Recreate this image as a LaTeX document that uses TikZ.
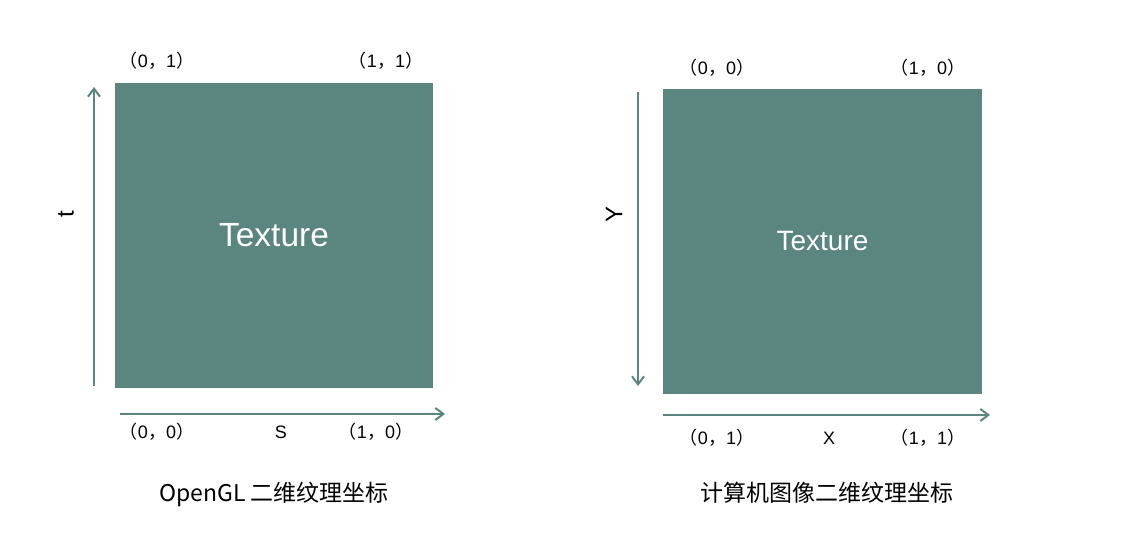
\documentclass[tikz,border=0pt]{standalone}
\usepackage{fontspec}
\setmainfont{Liberation Sans}
\newfontfamily\lat{Liberation Sans}
\newfontfamily\cjk{Noto Sans CJK SC}
\usetikzlibrary{arrows.meta}
\definecolor{texgreen}{HTML}{5B857F}
\newcommand{\uv}[2]{{\cjk（}{\lat #1}{\cjk，}{\lat #2}{\cjk）}}
\begin{document}
\begin{tikzpicture}[
    x=1pt,y=-1pt,
    sq/.style={rectangle,fill=texgreen,inner sep=0pt,text=white},
    arr/.style={-{Straight Barb[length=8pt,width=12pt]},line width=2pt,draw=texgreen},
    crd/.style={anchor=base,font=\lat\fontsize{18}{20}\selectfont},
    axl/.style={anchor=base,font=\lat\fontsize{18}{20}\selectfont},
    captxt/.style={anchor=base,font=\cjk\fontsize{23}{26}\selectfont}
]
\useasboundingbox (0,0) rectangle (1122,540);

% OpenGL
\begin{scope}
\node[sq,minimum width=318pt,minimum height=305pt,font=\lat\fontsize{33.5}{36}\selectfont] (sqL) at (274,235.5) {Texture};
\node[crd] (l01) at (157,68) {\uv{0}{1}};
\node[crd] (l11) at (386,68) {\uv{1}{1}};
\node[crd] (l00) at (157,438) {\uv{0}{0}};
\node[axl] (ls) at (281,438.5) {S};
\node[crd] (l10) at (376,438) {\uv{1}{0}};
\node[font=\lat\fontsize{24}{28}\selectfont,rotate=90] (lt) at (66,214) {t};
\coordinate (tL0) at (94,386);
\coordinate (tL1) at (94,87);
\coordinate (sL0) at (120,414);
\coordinate (sL1) at (445,414);
\draw[arr] (tL0) -- (tL1);
\draw[arr] (sL0) -- (sL1);
\node[captxt] (capL) at (274,501) {OpenGL 二维纹理坐标};
\end{scope}

% image
\begin{scope}
\node[sq,minimum width=319pt,minimum height=305pt,font=\lat\fontsize{28}{32}\selectfont] (sqR) at (822.5,241.5) {Texture};
\node[crd] (r00) at (717,75) {\uv{0}{0}};
\node[crd] (r10) at (928,75) {\uv{1}{0}};
\node[crd] (r01) at (717,444) {\uv{0}{1}};
\node[axl] (rx) at (829,444.5) {X};
\node[crd] (r11) at (928,444) {\uv{1}{1}};
\node[font=\lat\fontsize{24}{28}\selectfont,rotate=90] (ry) at (614,214) {Y};
\coordinate (yR0) at (638,92);
\coordinate (yR1) at (638,386);
\coordinate (xR0) at (663,415);
\coordinate (xR1) at (990,415);
\draw[arr] (yR0) -- (yR1);
\draw[arr] (xR0) -- (xR1);
\node[captxt] (capR) at (827,501) {计算机图像二维纹理坐标};
\end{scope}
\end{tikzpicture}
\end{document}
